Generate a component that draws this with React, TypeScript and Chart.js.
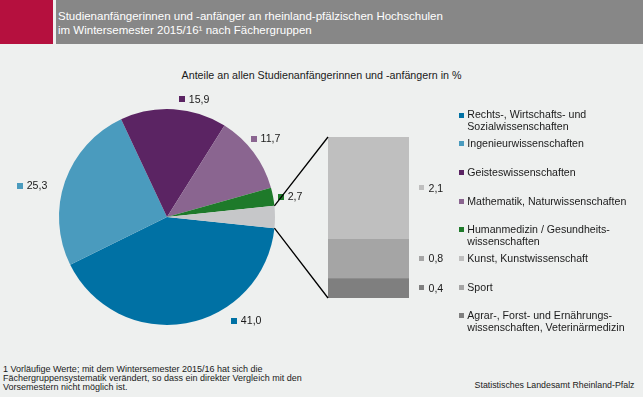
import React, { useEffect, useRef } from "react";
import { Chart, registerables } from "chart.js";

Chart.register(...registerables);

// ---------- data ----------
const mainCategories: string[][] = [
  ["Rechts-, Wirtschafts- und", "Sozialwissenschaften"],
  ["Ingenieurwissenschaften"],
  ["Geisteswissenschaften"],
  ["Mathematik, Naturwissenschaften"],
  ["Humanmedizin / Gesundheits-", "wissenschaften"],
];
const mainValues = [41.0, 25.3, 15.9, 11.7, 2.7];

const subCategories: string[][] = [
  ["Kunst, Kunstwissenschaft"],
  ["Sport"],
  ["Agrar-, Forst- und Ernährungs-", "wissenschaften, Veterinärmedizin"],
];
const subValues = [2.1, 0.8, 0.4];

// ---------- styles ----------
const mainColors = ["#0071a4", "#4a9bbe", "#5b2463", "#8a6590", "#1e7a2a"];
const restColor = "#c6c7c9";
const subColors = ["#bfbfbf", "#a5a5a5", "#7f7f7f"];
const FONT = "'Liberation Sans', Arial, sans-serif";
const TEXT = "#1a1a1a";
const labelNudge: [number, number][] = [
  [43, -12.4],
  [-8.3, 8],
  [4.6, 0],
  [-11, -7.8],
  [-5.2, 1.8],
];

const fmt = (v: number) => v.toFixed(1).replace(".", ",");

export default function App() {
  const pieRef = useRef<HTMLCanvasElement>(null);
  const barRef = useRef<HTMLCanvasElement>(null);

  useEffect(() => {
    document.body.style.margin = "0";
    const restValue = subValues.reduce((a, b) => a + b, 0);
    const pieValues = [...mainValues, restValue];
    const total = pieValues.reduce((a, b) => a + b, 0);
    const rotation = 90 + ((restValue / total) * 360) / 2;

    const pieLabelPlugin = {
      id: "pieLabels",
      afterDatasetsDraw(chart: any) {
        const ctx = chart.ctx;
        const meta = chart.getDatasetMeta(0);
        ctx.save();
        ctx.font = `10.6px ${FONT}`;
        ctx.textBaseline = "middle";
        meta.data.forEach((arc: any, i: number) => {
          if (i >= mainValues.length) return;
          const p = arc.getProps(["startAngle", "endAngle", "outerRadius", "x", "y"], true);
          const mid = (p.startAngle + p.endAngle) / 2;
          const ax = p.x + (p.outerRadius + 10) * Math.cos(mid) + labelNudge[i][0];
          const ay = p.y + (p.outerRadius + 10) * Math.sin(mid) + labelNudge[i][1];
          const text = fmt(mainValues[i]);
          const tw = ctx.measureText(text).width;
          const left = Math.cos(mid) < -0.3 ? ax - (10 + tw) : ax;
          ctx.fillStyle = mainColors[i];
          ctx.fillRect(Math.round(left), Math.round(ay - 3), 6, 6);
          ctx.fillStyle = TEXT;
          ctx.fillText(text, left + 10, ay + 0.5);
        });
        ctx.restore();
      },
    };

    const pie = new Chart(pieRef.current!, {
      type: "pie",
      data: {
        labels: [...mainCategories.map((l) => l.join(" ")), "Übrige"],
        datasets: [
          {
            data: pieValues,
            backgroundColor: [...mainColors, restColor],
            borderWidth: 0,
          },
        ],
      },
      options: {
        responsive: false,
        animation: false,
        devicePixelRatio: 1,
        rotation,
        layout: { padding: { left: 59, top: 109, right: 368, bottom: 72 } },
        plugins: { legend: { display: false }, tooltip: { enabled: false } },
      },
      plugins: [pieLabelPlugin],
    } as any);

    const stackOrder = [...subValues.keys()].reverse();

    const barPlugin = {
      id: "barExtras",
      afterDatasetsDraw(chart: any) {
        const ctx = chart.ctx;
        ctx.save();
        // connector lines
        const restArc: any = pie.getDatasetMeta(0).data[mainValues.length];
        const rp = restArc.getProps(["startAngle", "endAngle", "outerRadius", "x", "y"], true);
        const bars = chart.data.datasets.map((_: any, i: number) => chart.getDatasetMeta(i).data[0]);
        const top = Math.min(...bars.map((b: any) => b.y));
        const bottom = Math.max(...bars.map((b: any) => b.base));
        const left = bars[0].x - bars[0].width / 2;
        const right = bars[0].x + bars[0].width / 2;
        const p1 = [rp.x + rp.outerRadius * Math.cos(rp.startAngle), rp.y + rp.outerRadius * Math.sin(rp.startAngle)];
        const p2 = [rp.x + rp.outerRadius * Math.cos(rp.endAngle), rp.y + rp.outerRadius * Math.sin(rp.endAngle)];
        const upper = p1[1] < p2[1] ? p1 : p2;
        const lower = p1[1] < p2[1] ? p2 : p1;
        ctx.strokeStyle = "#000";
        ctx.lineWidth = 1.3;
        ctx.beginPath();
        ctx.moveTo(upper[0], upper[1]);
        ctx.lineTo(left, top);
        ctx.moveTo(lower[0], lower[1]);
        ctx.lineTo(left, bottom);
        ctx.stroke();

        // bar labels
        ctx.font = `10.6px ${FONT}`;
        ctx.textBaseline = "middle";
        chart.data.datasets.forEach((ds: any, di: number) => {
          const b: any = chart.getDatasetMeta(di).data[0];
          const cy = (b.y + b.base) / 2;
          const idx = stackOrder[di];
          ctx.fillStyle = subColors[idx];
          ctx.fillRect(Math.round(right + 10), Math.round(cy - 3), 5, 5);
          ctx.fillStyle = TEXT;
          ctx.fillText(fmt(subValues[idx]), right + 19.5, cy + 0.5);
        });

        // legend
        const legLabels = [...mainCategories, ...subCategories];
        const legColors = [...mainColors, ...subColors];
        legLabels.forEach((lines, i) => {
          const y = 115 + 28.7 * i;
          ctx.fillStyle = legColors[i];
          ctx.fillRect(459, Math.round(y - 2.5), 5, 5);
          ctx.fillStyle = TEXT;
          lines.forEach((ln, k) => ctx.fillText(ln, 467.3, y + 0.5 + k * 12));
        });
        ctx.restore();
      },
    };

    const bar = new Chart(barRef.current!, {
      type: "bar",
      data: {
        labels: ["Übrige"],
        datasets: stackOrder.map((idx) => ({
          label: subCategories[idx].join(" "),
          data: [subValues[idx]],
          backgroundColor: subColors[idx],
          borderWidth: 0,
          barPercentage: 1,
          categoryPercentage: 1,
        })),
      },
      options: {
        responsive: false,
        animation: false,
        devicePixelRatio: 1,
        layout: { padding: { left: 328, right: 234, top: 137, bottom: 99 } },
        scales: {
          x: { stacked: true, display: false },
          y: { stacked: true, display: false, min: 0, max: restValue },
        },
        plugins: { legend: { display: false }, tooltip: { enabled: false } },
      },
      plugins: [barPlugin],
    } as any);

    return () => {
      bar.destroy();
      pie.destroy();
    };
  }, []);

  return (
    <div
      style={{
        position: "relative",
        width: 643,
        height: 397,
        background: "#eef0ef",
        fontFamily: FONT,
        overflow: "hidden",
      }}
    >
      <div style={{ position: "absolute", left: 0, top: 0, width: 53, height: 44, background: "#b5103e" }} />
      <div style={{ position: "absolute", left: 56, top: 0, width: 587, height: 44, background: "#878787" }} />
      <div
        style={{
          position: "absolute",
          left: 58,
          top: 8.5,
          color: "#fff",
          fontSize: 11.5,
          lineHeight: "14.3px",
          whiteSpace: "nowrap",
        }}
      >
        Studienanfängerinnen und -anfänger an rheinland-pfälzischen Hochschulen
        <br />
        im Wintersemester 2015/16¹ nach Fächergruppen
      </div>
      <div
        style={{
          position: "absolute",
          left: 0,
          width: 643,
          top: 69,
          textAlign: "center",
          fontSize: 10.7,
          lineHeight: "13px",
          color: TEXT,
          whiteSpace: "nowrap",
        }}
      >
        Anteile an allen Studienanfängerinnen und -anfängern in %
      </div>
      <div
        style={{
          position: "absolute",
          left: 3,
          top: 364.7,
          fontSize: 9,
          lineHeight: "9.2px",
          color: TEXT,
          whiteSpace: "nowrap",
        }}
      >
        1 Vorläufige Werte; mit dem Wintersemester 2015/16 hat sich die
        <br />
        Fächergruppensystematik verändert, so dass ein direkter Vergleich mit den
        <br />
        Vorsemestern nicht möglich ist.
      </div>
      <div
        style={{
          position: "absolute",
          right: 643 - 634.5,
          top: 380,
          fontSize: 8.8,
          lineHeight: "10px",
          color: TEXT,
          whiteSpace: "nowrap",
        }}
      >
        Statistisches Landesamt Rheinland-Pfalz
      </div>
      <canvas ref={pieRef} width={643} height={397} style={{ position: "absolute", left: 0, top: 0 }} />
      <canvas ref={barRef} width={643} height={397} style={{ position: "absolute", left: 0, top: 0 }} />
    </div>
  );
}
